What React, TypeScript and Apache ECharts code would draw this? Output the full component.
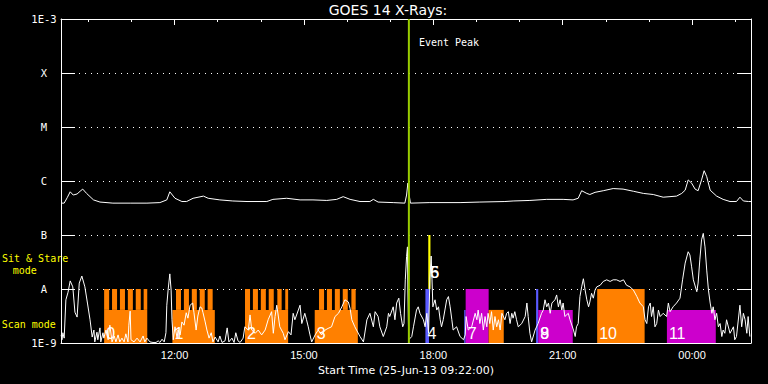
import React, { useEffect, useRef } from "react";
import * as echarts from "echarts";

// Time axis: hours since 00:00 on 25-Jun-13 (values past 24 belong to 26-Jun)
const START = 9 + 22 / 60;
const END = START + 16;
const majorTimeTicks = [12, 15, 18, 21, 24];
const hourTicks = [10, 11, 12, 13, 14, 15, 16, 17, 18, 19, 20, 21, 22, 23, 24, 25];
const levelNames: Record<string, string> = { "-9": "1E-9", "-8": "A", "-7": "B", "-6": "C", "-5": "M", "-4": "X", "-3": "1E-3" };

// GOES 14 long channel (1-8 Å): [hour, log10 flux W/m²]
const longChannel = [
  [9.37,-6.41],[9.44,-6.41],[9.51,-6.31],[9.58,-6.20],[9.65,-6.26],[9.74,-6.24],[9.81,-6.19],[9.87,-6.15],[9.96,-6.23],[10.12,-6.35],
  [10.27,-6.39],[10.57,-6.41],[10.97,-6.41],[11.36,-6.41],[11.66,-6.40],[11.82,-6.35],[11.89,-6.20],[12.01,-6.32],[12.17,-6.38],[12.28,-6.38],
  [12.43,-6.32],[12.67,-6.28],[12.78,-6.32],[13.05,-6.35],[13.35,-6.37],[13.68,-6.38],[14.14,-6.38],[14.28,-6.34],[14.60,-6.32],[14.91,-6.35],
  [15.21,-6.35],[15.53,-6.36],[15.76,-6.34],[15.91,-6.29],[16.07,-6.34],[16.30,-6.38],[16.53,-6.38],[16.61,-6.34],[16.72,-6.39],[17.07,-6.40],
  [17.34,-6.41],[17.38,-6.26],[17.41,-6.04],[17.44,-6.26],[17.47,-6.41],[17.92,-6.40],[18.62,-6.40],[19.08,-6.39],[19.66,-6.38],[19.85,-6.37],
  [20.24,-6.36],[20.63,-6.34],[21.01,-6.34],[21.24,-6.35],[21.36,-6.32],[21.44,-6.18],[21.56,-6.23],[21.63,-6.25],[21.75,-6.21],[21.94,-6.18],
  [22.17,-6.14],[22.40,-6.15],[22.64,-6.19],[22.87,-6.23],[23.10,-6.25],[23.33,-6.30],[23.64,-6.28],[23.76,-6.23],[23.84,-6.17],[23.91,-5.98],
  [23.99,-6.04],[24.07,-6.15],[24.14,-6.18],[24.22,-5.98],[24.28,-5.81],[24.34,-5.92],[24.42,-6.17],[24.57,-6.28],[24.72,-6.34],[24.88,-6.38],
  [25.03,-6.38],[25.11,-6.30],[25.19,-6.37],[25.31,-6.38],[25.37,-6.38],
];

// GOES 14 short channel (0.5-4 Å): [hour, log10 flux W/m²]
const shortChannel = [
  [9.37,-8.85],[9.39,-8.94],[9.41,-8.81],[9.44,-8.91],[9.48,-8.20],[9.53,-8.06],[9.58,-7.85],[9.64,-7.96],[9.69,-8.43],[9.74,-8.52],
  [9.79,-7.89],[9.85,-7.76],[9.92,-7.96],[9.98,-8.26],[10.04,-8.57],[10.09,-8.89],[10.13,-8.76],[10.15,-8.98],[10.20,-8.80],[10.22,-8.94],
  [10.27,-8.72],[10.29,-8.98],[10.34,-8.81],[10.36,-8.91],[10.41,-8.76],[10.46,-8.94],[10.50,-8.67],[10.55,-8.98],[10.60,-8.87],[10.64,-8.98],
  [10.69,-8.85],[10.73,-8.98],[10.78,-8.91],[10.83,-8.98],[10.87,-8.83],[10.92,-8.98],[10.94,-8.67],[10.97,-8.41],[10.99,-8.94],[11.06,-8.98],
  [11.13,-8.91],[11.20,-8.98],[11.27,-8.87],[11.31,-8.98],[11.36,-8.91],[11.43,-8.98],[11.50,-8.99],[11.57,-8.99],[11.62,-8.96],[11.66,-8.99],
  [11.71,-8.93],[11.76,-8.98],[11.80,-8.81],[11.82,-8.30],[11.85,-8.02],[11.89,-7.72],[11.92,-8.02],[11.94,-8.57],[11.97,-8.94],[12.01,-8.70],
  [12.06,-8.91],[12.08,-8.76],[12.13,-8.85],[12.17,-8.61],[12.22,-8.67],[12.27,-8.44],[12.31,-8.54],[12.36,-8.30],[12.42,-8.26],[12.45,-8.44],
  [12.50,-8.76],[12.54,-8.50],[12.59,-8.33],[12.63,-8.35],[12.66,-8.44],[12.71,-8.61],[12.75,-8.76],[12.80,-8.91],[12.85,-8.81],[12.89,-8.98],
  [12.94,-8.89],[13.01,-8.98],[13.05,-8.87],[13.10,-8.99],[13.17,-8.96],[13.22,-8.72],[13.26,-8.98],[13.33,-8.91],[13.38,-8.99],[13.42,-8.81],
  [13.47,-8.96],[13.52,-8.99],[13.59,-8.91],[13.63,-8.70],[13.71,-8.76],[13.75,-8.48],[13.79,-8.76],[13.87,-8.82],[13.94,-8.76],[14.02,-8.85],
  [14.10,-8.76],[14.17,-8.57],[14.25,-8.42],[14.29,-8.82],[14.33,-8.51],[14.37,-8.30],[14.44,-8.70],[14.52,-8.82],[14.56,-8.94],[14.64,-8.79],
  [14.70,-8.85],[14.75,-8.45],[14.79,-8.57],[14.87,-8.39],[14.91,-8.30],[14.95,-8.64],[15.02,-8.45],[15.06,-8.57],[15.10,-8.70],[15.14,-8.85],
  [15.18,-8.98],[15.26,-8.85],[15.33,-8.76],[15.41,-8.85],[15.49,-8.76],[15.56,-8.73],[15.64,-8.70],[15.72,-8.51],[15.80,-8.45],[15.88,-8.33],
  [15.95,-8.20],[16.03,-8.24],[16.07,-8.36],[16.11,-8.57],[16.18,-8.70],[16.30,-8.88],[16.38,-8.98],[16.46,-8.57],[16.53,-8.45],[16.61,-8.70],
  [16.65,-8.42],[16.72,-8.51],[16.76,-8.70],[16.84,-8.88],[16.92,-8.70],[16.96,-8.45],[16.99,-8.51],[17.07,-8.33],[17.11,-8.57],[17.15,-8.26],
  [17.20,-8.17],[17.24,-8.45],[17.29,-8.70],[17.32,-8.64],[17.35,-7.83],[17.38,-7.40],[17.40,-7.22],[17.41,-8.02],[17.43,-8.94],[17.50,-8.88],
  [17.54,-8.70],[17.61,-8.39],[17.65,-8.33],[17.69,-8.45],[17.77,-8.57],[17.81,-8.70],[17.85,-8.45],[17.89,-8.82],[17.92,-7.83],[17.95,-7.39],
  [17.97,-7.83],[17.99,-8.33],[18.00,-8.30],[18.04,-8.20],[18.08,-8.39],[18.12,-8.33],[18.16,-8.57],[18.19,-8.70],[18.23,-8.57],[18.31,-8.20],
  [18.35,-8.14],[18.39,-8.33],[18.43,-8.57],[18.46,-8.76],[18.54,-8.70],[18.62,-8.88],[18.70,-8.94],[18.74,-8.85],[18.76,-8.51],[18.81,-8.76],
  [18.89,-8.70],[18.97,-8.45],[19.01,-8.57],[19.04,-8.39],[19.08,-8.64],[19.12,-8.45],[19.16,-8.76],[19.20,-8.51],[19.24,-8.70],[19.27,-8.45],
  [19.31,-8.64],[19.35,-8.42],[19.39,-8.76],[19.43,-8.51],[19.47,-8.70],[19.51,-8.57],[19.55,-8.76],[19.59,-8.45],[19.66,-8.57],[19.70,-8.45],
  [19.74,-8.42],[19.78,-8.64],[19.82,-8.45],[19.85,-8.54],[19.89,-8.42],[19.93,-8.57],[19.97,-8.70],[20.05,-8.64],[20.13,-8.51],[20.17,-8.26],
  [20.20,-8.51],[20.24,-8.82],[20.28,-8.98],[20.36,-8.76],[20.43,-8.64],[20.51,-8.45],[20.55,-8.39],[20.59,-8.20],[20.63,-8.33],[20.67,-8.26],
  [20.71,-8.45],[20.75,-8.26],[20.82,-8.20],[20.86,-8.11],[20.90,-8.33],[20.94,-8.20],[20.98,-8.39],[21.01,-8.26],[21.05,-8.51],[21.13,-8.45],
  [21.17,-8.57],[21.25,-8.76],[21.29,-8.88],[21.32,-8.70],[21.36,-8.64],[21.40,-8.14],[21.44,-7.96],[21.48,-7.81],[21.52,-8.02],[21.56,-8.20],
  [21.60,-8.33],[21.63,-8.24],[21.67,-8.08],[21.71,-8.17],[21.75,-8.02],[21.79,-7.96],[21.87,-7.93],[21.94,-7.86],[22.02,-7.83],[22.10,-7.86],
  [22.17,-7.83],[22.25,-7.83],[22.33,-7.86],[22.41,-7.83],[22.48,-7.93],[22.56,-7.96],[22.64,-8.02],[22.72,-8.14],[22.79,-8.26],[22.87,-8.33],
  [22.91,-8.57],[22.95,-8.64],[22.99,-8.33],[23.03,-8.26],[23.06,-8.51],[23.10,-8.33],[23.14,-8.70],[23.18,-8.64],[23.22,-8.39],[23.26,-8.51],
  [23.33,-8.45],[23.41,-8.51],[23.45,-8.26],[23.49,-8.42],[23.56,-8.33],[23.64,-8.26],[23.72,-8.17],[23.78,-7.83],[23.84,-7.52],[23.91,-7.31],
  [23.95,-7.37],[23.99,-7.59],[24.03,-7.83],[24.11,-8.05],[24.14,-7.89],[24.18,-7.46],[24.22,-7.09],[24.26,-6.97],[24.30,-7.22],[24.34,-7.65],
  [24.38,-8.02],[24.42,-8.26],[24.46,-8.45],[24.49,-8.33],[24.53,-8.57],[24.57,-8.45],[24.61,-8.70],[24.65,-8.64],[24.69,-8.88],[24.72,-8.76],
  [24.76,-8.82],[24.80,-8.57],[24.88,-8.82],[24.96,-8.70],[24.99,-8.94],[25.03,-8.88],[25.11,-8.30],[25.15,-8.70],[25.19,-8.45],[25.23,-8.57],
  [25.27,-8.82],[25.30,-8.51],[25.34,-8.88],
];

// Observation timeline
const SCAN_TOP = 4.1e-9;
const SIT_TOP = 1e-8;
const UPPER_TOP = 1e-7;
const combBases = [["10:22", "11:22"], ["11:57", "12:56"], ["13:38", "14:38"], ["15:15", "16:15"]];
const combTeeth = [
  ["10:22", "10:29"], ["10:33", "10:40"], ["10:44", "10:51"], ["10:55", "11:02"], ["11:06", "11:13"], ["11:17", "11:22"],
  ["12:02", "12:09"], ["12:13", "12:20"], ["12:24", "12:31"], ["12:35", "12:42"], ["12:46", "12:53"],
  ["13:38", "13:45"], ["13:49", "13:56"], ["14:00", "14:07"], ["14:11", "14:18"], ["14:23", "14:29"], ["14:34", "14:38"],
  ["15:21", "15:28"], ["15:32", "15:39"], ["15:43", "15:50"], ["15:54", "16:01"], ["16:06", "16:12"],
];
const observations = [
  { start: "17:49", end: "17:54", mode: "sit", kind: "blue" },
  { start: "17:53", end: "17:56", mode: "upper", kind: "yellow" },
  { start: "18:43", end: "18:45", mode: "scan", kind: "blue" },
  { start: "18:45", end: "19:17", mode: "sit", kind: "magenta" },
  { start: "19:17", end: "19:38", mode: "scan", kind: "orange" },
  { start: "20:23", end: "20:26", mode: "sit", kind: "blue" },
  { start: "20:26", end: "21:14", mode: "scan", kind: "magenta" },
  { start: "21:48", end: "22:54", mode: "sit", kind: "orange" },
  { start: "23:25", end: "00:33", mode: "scan", kind: "magenta" },
];
const obsLabels = [
  { time: "10:22", text: "0", level: 1e-9 }, { time: "11:57", text: "1", level: 1e-9 },
  { time: "13:38", text: "2", level: 1e-9 }, { time: "15:15", text: "3", level: 1e-9 },
  { time: "17:49", text: "4", level: 1e-9 }, { time: "17:53", text: "5", level: 1.35e-8 },
  { time: "17:53", text: "6", level: 1.35e-8 }, { time: "18:45", text: "7", level: 1e-9 },
  { time: "20:26", text: "8", level: 1e-9 }, { time: "20:26", text: "9", level: 1e-9 },
  { time: "21:48", text: "10", level: 1e-9 }, { time: "23:25", text: "11", level: 1e-9 },
];
const eventPeakTime = "17:26";

const COLORS: Record<string, string> = { orange: "#ff8000", magenta: "#cc00cc", blue: "#5a5aff", yellow: "#ffff00" };

const hm = (s: string) => {
  const [H, M] = s.split(":").map(Number);
  let h = H + M / 60;
  if (h < START - 1) h += 24;
  return h;
};

export default function App() {
  const ref = useRef<HTMLDivElement>(null);
  useEffect(() => {
    if (!ref.current) return;
    const chart = echarts.init(ref.current, null, { renderer: "svg" });

    const blockItems: { range: number[]; color: string }[] = [];
    combBases.forEach(([a, b]) => blockItems.push({ range: [hm(a), hm(b), 1e-9, SCAN_TOP], color: COLORS.orange }));
    combTeeth.forEach(([a, b]) => blockItems.push({ range: [hm(a), hm(b), SCAN_TOP, SIT_TOP], color: COLORS.orange }));
    observations.forEach((o) => {
      const lo = o.mode === "upper" ? SIT_TOP : 1e-9;
      const hi = o.mode === "upper" ? UPPER_TOP : o.mode === "sit" ? SIT_TOP : SCAN_TOP;
      blockItems.push({ range: [hm(o.start), hm(o.end), lo, hi], color: COLORS[o.kind] });
    });

    const tf = (v: number) => {
      const h = Math.round(v) % 24;
      return (h < 10 ? "0" : "") + h + ":00";
    };

    const option: any = {
      backgroundColor: "#000",
      animation: false,
      grid: { left: 61, right: 17, top: 19, bottom: 41 },
      xAxis: [
        {
          type: "value", min: START, max: END, position: "bottom",
          axisLine: { onZero: false, lineStyle: { color: "#fff", width: 1 } },
          axisTick: { show: false }, splitLine: { show: false },
          axisLabel: { customValues: majorTimeTicks, formatter: tf, color: "#fff", fontFamily: "Liberation Sans", fontSize: 11, margin: 6 },
          name: "Start Time (25-Jun-13 09:22:00)", nameLocation: "middle", nameGap: 20,
          nameTextStyle: { color: "#fff", fontFamily: "DejaVu Sans", fontSize: 11 },
        },
        {
          type: "value", min: START, max: END, position: "top",
          axisLine: { onZero: false, lineStyle: { color: "#fff", width: 1 } },
          axisTick: { show: true, inside: true, length: 3, customValues: hourTicks, lineStyle: { color: "#fff" } },
          axisLabel: { show: false }, splitLine: { show: false },
        },
        {
          type: "value", min: START, max: END, position: "top",
          axisLine: { show: false, onZero: false },
          axisTick: { show: true, inside: true, length: 6, customValues: majorTimeTicks, lineStyle: { color: "#fff" } },
          axisLabel: { show: false }, splitLine: { show: false },
        },
      ],
      yAxis: [
        {
          type: "log", logBase: 10, min: 1e-9, max: 1e-3, position: "left",
          axisLine: { show: true, onZero: false, lineStyle: { color: "#fff", width: 1 } },
          axisTick: { show: true, inside: true, length: 14, lineStyle: { color: "#fff" } },
          minorTick: { show: false },
          axisLabel: {
            formatter: (v: number) => levelNames[String(Math.round(Math.log10(v)))] ?? "",
            color: "#fff", align: "center", margin: 17, fontFamily: "DejaVu Sans Mono", fontSize: 10.5,
            verticalAlignMaxLabel: "top",
          },
          splitLine: { show: true, lineStyle: { color: "#fff", type: [1, 5], width: 1 } },
        },
        {
          type: "log", logBase: 10, min: 1e-9, max: 1e-3, position: "right",
          axisLine: { show: true, onZero: false, lineStyle: { color: "#fff", width: 1 } },
          axisTick: { show: true, inside: true, length: 14, lineStyle: { color: "#fff" } },
          axisLabel: { show: false }, splitLine: { show: false },
        },
      ],
      graphic: [
        { type: "text", x: 388, y: 9.5, style: { text: "GOES 14 X-Rays:", fill: "#fff", font: '14px "DejaVu Sans"', align: "center", verticalAlign: "middle" } },
        { type: "text", x: 2, y: 258.5, style: { text: "Sit & Stare", fill: "#ffff00", font: '10px "DejaVu Sans Mono"', align: "left", verticalAlign: "middle" } },
        { type: "text", x: 12.7, y: 270.5, style: { text: "mode", fill: "#ffff00", font: '10px "DejaVu Sans Mono"', align: "left", verticalAlign: "middle" } },
        { type: "text", x: 1.7, y: 324, style: { text: "Scan mode", fill: "#ffff00", font: '10px "DejaVu Sans Mono"', align: "left", verticalAlign: "middle" } },
      ],
      series: [
        {
          type: "custom", name: "observations", xAxisIndex: 0, yAxisIndex: 0, clip: true, z: 1,
          data: blockItems.map((b) => b.range),
          encode: { x: [0, 1], y: [2, 3] },
          renderItem: (params: any, api: any) => {
            const p0 = api.coord([api.value(0), api.value(2)]);
            const p1 = api.coord([api.value(1), api.value(3)]);
            return {
              type: "rect",
              shape: { x: p0[0], y: p1[1], width: p1[0] - p0[0], height: p0[1] - p1[1] },
              style: { fill: blockItems[params.dataIndex].color },
            };
          },
        },
        {
          type: "custom", name: "labels", xAxisIndex: 0, yAxisIndex: 0, z: 2,
          data: obsLabels.map((l) => [hm(l.time), l.level]),
          encode: { x: 0, y: 1 },
          renderItem: (params: any, api: any) => {
            const p = api.coord([api.value(0), api.value(1)]);
            return {
              type: "text", x: p[0] + 2, y: p[1] - 9.5,
              style: { text: obsLabels[params.dataIndex].text, fill: "#fff", font: '16px "Liberation Sans"', align: "left", verticalAlign: "middle" },
            };
          },
        },
        {
          type: "line", name: "long", xAxisIndex: 0, yAxisIndex: 0, z: 3, showSymbol: false, symbol: "none",
          lineStyle: { color: "#fff", width: 1 },
          data: longChannel.map(([t, lg]) => [t, Math.pow(10, lg)]),
        },
        {
          type: "line", name: "short", xAxisIndex: 0, yAxisIndex: 0, z: 3, showSymbol: false, symbol: "none",
          lineStyle: { color: "#fff", width: 1 },
          data: shortChannel.map(([t, lg]) => [t, Math.pow(10, lg)]),
        },
        {
          type: "custom", name: "eventPeak", xAxisIndex: 0, yAxisIndex: 0, z: 10,
          data: [[hm(eventPeakTime), 1e-3]],
          encode: { x: 0, y: 1 },
          renderItem: (params: any, api: any) => {
            const top = api.coord([api.value(0), 1e-3]);
            const bot = api.coord([api.value(0), 1e-9]);
            return {
              type: "group",
              children: [
                { type: "line", shape: { x1: top[0], y1: top[1], x2: bot[0], y2: bot[1] }, style: { stroke: "#99cc00", lineWidth: 2 } },
                { type: "text", x: top[0] + 10, y: top[1] + 23.5, style: { text: "Event Peak", fill: "#fff", font: '10px "DejaVu Sans Mono"', align: "left", verticalAlign: "middle" } },
              ],
            };
          },
        },
      ],
    };
    chart.setOption(option);
    return () => chart.dispose();
  }, []);
  return <div ref={ref} style={{ position: "fixed", left: 0, top: 0, width: 768, height: 384, background: "#000" }} />;
}
